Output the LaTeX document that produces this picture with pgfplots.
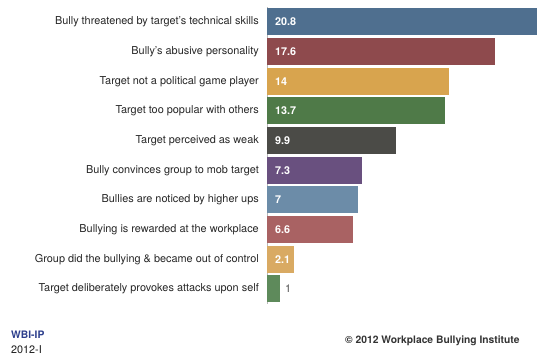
\documentclass[border=0pt]{standalone}
\usepackage{pgfplots}
\pgfplotsset{compat=1.18}
\usepackage{fontspec}
\setmainfont{TeX Gyre Heros}
\definecolor{c1}{HTML}{4F6F8F}
\definecolor{c2}{HTML}{8E4A4D}
\definecolor{c3}{HTML}{D8A44E}
\definecolor{c4}{HTML}{4F7A48}
\definecolor{c5}{HTML}{4B4B47}
\definecolor{c6}{HTML}{69507F}
\definecolor{c7}{HTML}{6C8CA8}
\definecolor{c8}{HTML}{A96263}
\definecolor{c9}{HTML}{D9AA63}
\definecolor{c10}{HTML}{5E8A5B}
\definecolor{wbiblue}{HTML}{2C3E8C}
\begin{document}
\begin{tikzpicture}
\useasboundingbox (0,0) rectangle (550bp,361bp);
\begin{axis}[
  at={(267bp,57.2bp)}, anchor=south west,
  scale only axis, width=270bp, height=296.7bp,
  xmin=0, xmax=20.8, ymin=0.5, ymax=10.5, y dir=reverse,
  axis x line=none, axis y line*=left,
  y axis line style={gray!55, line width=0.8pt, -},
  ytick={1,...,10},
  yticklabels={Bully threatened by target’s technical skills,
    Bully’s abusive personality,
    Target not a political game player,
    Target too popular with others,
    Target perceived as weak,
    Bully convinces group to mob target,
    Bullies are noticed by higher ups,
    Bullying is rewarded at the workplace,
    Group did the bullying \& became out of control,
    Target deliberately provokes attacks upon self},
  major tick length=0pt,
  yticklabel style={font=\fontsize{10.9bp}{13bp}\selectfont, text=black!85, anchor=east, inner sep=0pt, xshift=-8bp},
  clip=false,
  mybar/.style={xbar, bar width=27bp, bar shift=0pt, draw=none, fill=#1},
  vlab/.style={draw=none, mark=none, nodes near coords, point meta=explicit symbolic,
    every node near coord/.style={anchor=west, inner sep=0pt, xshift=#1, font=\fontsize{10.8bp}{13bp}\selectfont\bfseries}},
]
\addplot[mybar=c1] coordinates {(20.8,1)};
\addplot[mybar=c2] coordinates {(17.6,2)};
\addplot[mybar=c3] coordinates {(14,3)};
\addplot[mybar=c4] coordinates {(13.7,4)};
\addplot[mybar=c5] coordinates {(9.9,5)};
\addplot[mybar=c6] coordinates {(7.3,6)};
\addplot[mybar=c7] coordinates {(7,7)};
\addplot[mybar=c8] coordinates {(6.6,8)};
\addplot[mybar=c9] coordinates {(2.1,9)};
\addplot[mybar=c10] coordinates {(1,10)};
\addplot[vlab=8bp, nodes near coords style={text=white}] coordinates {
  (0,1) [20.8] (0,2) [17.6] (0,3) [14] (0,4) [13.7] (0,5) [9.9]
  (0,6) [7.3] (0,7) [7] (0,8) [6.6] (0,9) [2.1]};
\addplot[vlab=5bp, nodes near coords style={text=black!70, font=\fontsize{10.8bp}{13bp}\selectfont}] coordinates {(1,10) [1]};
\end{axis}
\node[anchor=west, inner sep=0pt, text=wbiblue, font=\fontsize{10.3bp}{12bp}\selectfont\bfseries] at (11bp,26bp) {WBI-IP};
\node[anchor=west, inner sep=0pt, text=black!90, font=\fontsize{10.8bp}{12bp}\selectfont] at (11bp,11bp) {2012-I};
\node[anchor=west, inner sep=0pt, text=black!80, font=\fontsize{10.3bp}{12bp}\selectfont\bfseries] at (345bp,20bp) {© 2012 Workplace Bullying Institute};
\end{tikzpicture}
\end{document}
